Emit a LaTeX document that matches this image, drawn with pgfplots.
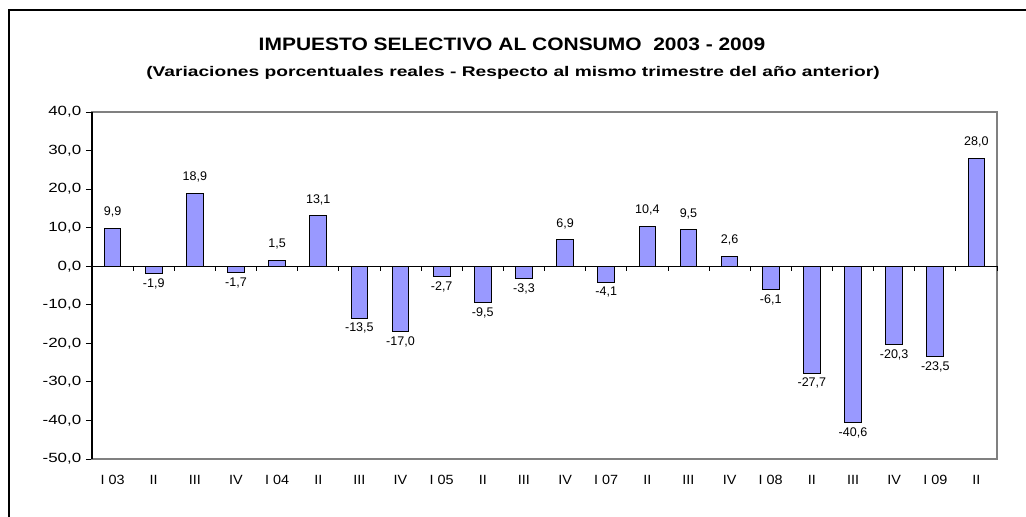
\documentclass[border=0pt]{standalone}
\usepackage{pgfplots}
\pgfplotsset{compat=1.18}
\usepackage{fontspec}
\setmainfont{Liberation Sans}
\newfontfamily\titlefont[FakeStretch=1.165]{Liberation Sans}
\newfontfamily\subtitlefont[FakeStretch=1.37]{Liberation Sans}
\newfontfamily\ytickfont[FakeStretch=1.27]{Liberation Sans}
\newfontfamily\xtickfont[FakeStretch=1.08]{Liberation Sans}
\definecolor{barblue}{HTML}{9999FF}
\definecolor{framegray}{HTML}{808080}
\pgfplotstableread{
x y lab
0 9.9 {9,9}
2 18.9 {18,9}
4 1.5 {1,5}
5 13.1 {13,1}
11 6.9 {6,9}
13 10.4 {10,4}
14 9.5 {9,5}
15 2.6 {2,6}
21 28.0 {28,0}
}\positive
\pgfplotstableread{
x y lab
1 -1.9 {-1,9}
3 -1.7 {-1,7}
6 -13.5 {-13,5}
7 -17.0 {-17,0}
8 -2.7 {-2,7}
9 -9.5 {-9,5}
10 -3.3 {-3,3}
12 -4.1 {-4,1}
16 -6.1 {-6,1}
17 -27.7 {-27,7}
18 -40.6 {-40,6}
19 -20.3 {-20,3}
20 -23.5 {-23,5}
}\negative
\begin{document}
\begin{tikzpicture}
\useasboundingbox (0,0) rectangle (769.5pt,387.75pt);
\draw[line width=1.1pt] (6.75pt,0pt) -- (6.75pt,380.25pt) -- (769.5pt,380.25pt);
\node[font=\titlefont\bfseries\fontsize{13.5pt}{15pt}\selectfont] at (384pt,354.75pt) {IMPUESTO SELECTIVO AL CONSUMO~~2003 - 2009};
\node[font=\subtitlefont\bfseries\fontsize{10.5pt}{12pt}\selectfont] at (384.75pt,333pt) {(Variaciones porcentuales reales - Respecto al mismo trimestre del año anterior)};
\begin{axis}[
  at={(69pt,43.5pt)}, anchor=south west,
  scale only axis, width=678.75pt, height=260.25pt,
  xmin=-0.5, xmax=21.5, ymin=-50, ymax=40,
  axis line style={draw=none},
  ybar, bar width=12.5pt, bar shift=0pt,
  xtick={0,...,21},
  xticklabels={I 03,II,III,IV,I 04,II,III,IV,I 05,II,III,IV,I 07,II,III,IV,I 08,II,III,IV,I 09,II},
  xtick style={draw=none},
  xticklabel style={font=\xtickfont\fontsize{10pt}{12pt}\selectfont, yshift=-4pt},
  ytick={-50,-40,...,40},
  ytick pos=left,
  yticklabels={{-50,0},{-40,0},{-30,0},{-20,0},{-10,0},{0,0},{10,0},{20,0},{30,0},{40,0}},
  yticklabel style={font=\ytickfont\fontsize{10pt}{12pt}\selectfont},
  ytick style={black, line width=0.6pt},
  tick align=outside, major tick length=4.5pt,
  nodes near coords,
  every node near coord/.append style={font=\fontsize{9.4pt}{11pt}\selectfont},
  point meta=explicit symbolic,
  clip=false,
]
\addplot[fill=barblue, draw=black, line width=0.7pt,
  nodes near coords style={anchor=south, yshift=4.5pt}] table[meta=lab] {\positive};
\addplot[fill=barblue, draw=black, line width=0.7pt,
  nodes near coords style={anchor=north}] table[meta=lab] {\negative};
\draw[framegray, line width=0.8pt] (rel axis cs:0,0) rectangle (rel axis cs:1,1);
\draw[black, line width=1pt] (rel axis cs:0,0) -- (rel axis cs:0,1);
\draw[black, line width=0.6pt] (axis cs:-0.5,0) -- (axis cs:21.5,0);
\pgfplotsinvokeforeach{-0.5,0.5,...,21.5}{
  \draw[black, line width=0.6pt] (axis cs:#1,0) -- ++(0pt,-3.5pt);
}
\end{axis}
\end{tikzpicture}
\end{document}
